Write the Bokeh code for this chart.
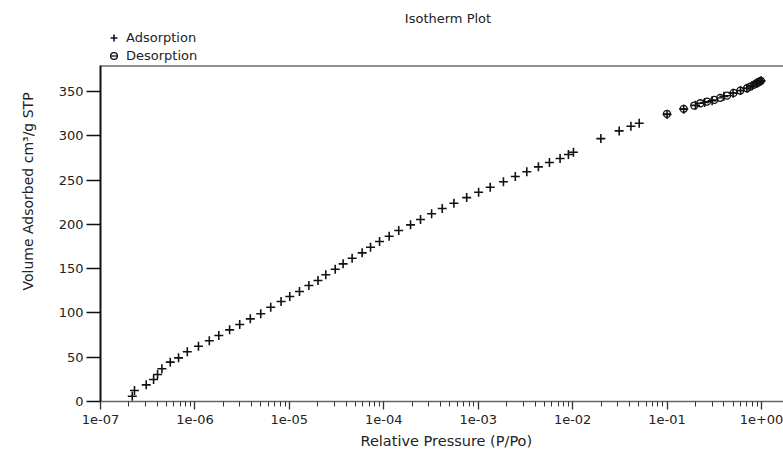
from bokeh.plotting import figure
from bokeh.layouts import column
from bokeh.models import (Range1d, FixedTicker, CustomJSTickFormatter, Legend, LegendItem,
                          Label, Span, Title)
from bokeh.embed import file_html
from bokeh.resources import INLINE

# ---- data ----
ads_p = [2.17e-7, 2.29e-7, 3.05e-7, 3.65e-7, 4.02e-7, 4.47e-7, 5.48e-7, 6.71e-7, 8.30e-7,
         1.09e-6, 1.42e-6, 1.79e-6, 2.33e-6, 2.98e-6, 3.86e-6, 4.98e-6, 6.35e-6, 8.17e-6,
         1.01e-5, 1.28e-5, 1.61e-5, 2.01e-5, 2.43e-5, 3.06e-5, 3.71e-5, 4.62e-5, 5.90e-5,
         7.24e-5, 9.02e-5, 1.14e-4, 1.44e-4, 1.92e-4, 2.45e-4, 3.21e-4, 4.16e-4, 5.53e-4,
         7.55e-4, 1.01e-3, 1.34e-3, 1.85e-3, 2.47e-3, 3.27e-3, 4.34e-3, 5.68e-3, 7.36e-3,
         9.02e-3, 1.02e-2, 1.99e-2, 3.11e-2, 4.14e-2, 5.07e-2,
         0.100, 0.150, 0.200, 0.250, 0.300, 0.400, 0.500, 0.600, 0.700, 0.800, 0.900, 0.950, 0.990]
ads_v = [6.0, 12.4, 18.8, 24.8, 30.5, 36.9, 44.4, 49.3, 56.1,
         62.4, 68.5, 74.5, 80.9, 86.9, 93.3, 99.0, 106.4, 112.9,
         118.5, 124.2, 130.9, 136.6, 143.0, 149.3, 155.4, 161.7, 167.8,
         174.2, 180.6, 186.6, 193.0, 199.4, 205.4, 211.9, 217.8, 223.8,
         230.2, 236.2, 241.9, 248.0, 254.0, 259.3, 264.9, 269.8, 274.3,
         278.8, 281.4, 296.8, 305.5, 310.7, 314.1,
         324.0, 330.0, 334.5, 337.5, 339.5, 344.5, 348.0, 351.0, 353.5, 356.5, 359.5, 361.0, 362.0]

des_p = [0.0998, 0.150, 0.194, 0.225, 0.265, 0.317, 0.366, 0.432, 0.507, 0.597, 0.703,
         0.760, 0.826, 0.880, 0.920, 0.957, 0.985]
des_v = [324.7, 330.4, 334.1, 336.7, 338.6, 340.5, 342.8, 345.4, 348.4, 351.0, 353.6,
         355.5, 357.4, 359.0, 360.2, 361.2, 362.0]

x_ticks = [1e-7, 1e-6, 1e-5, 1e-4, 1e-3, 1e-2, 1e-1, 1e0]
x_tick_labels = ["1e-07", "1e-06", "1e-05", "1e-04", "1e-03", "1e-02", "1e-01", "1e+00"]
y_ticks = [0, 50, 100, 150, 200, 250, 300, 350]

FONT = "DejaVu Sans"
TXT = "#222222"
X_END = 1.71
Y_END = 379.3
MK = "#111111"


def add_series(fig):
    a = fig.scatter(ads_p, ads_v, marker="cross", size=9, line_color=MK, line_width=1.6)
    c = fig.scatter(des_p, des_v, marker="circle", size=7, fill_color=None,
                    line_color=MK, line_width=1.3)
    d = fig.scatter(des_p, des_v, marker="dash", size=7, line_color=MK, line_width=1.3)
    return a, c, d


# ---------- header strip: title + legend (its frame is aligned with the main frame) ----------
head = figure(width=783, height=64, output_backend="svg", toolbar_location=None,
              x_range=Range1d(0, 1), y_range=Range1d(-2, -1),
              x_axis_location=None, y_axis_location=None,
              min_border_left=0, min_border_right=0, min_border_top=0, min_border_bottom=0,
              background_fill_color="white", border_fill_color="white")
head.outline_line_color = None
head.xgrid.visible = False
head.ygrid.visible = False
h_ads, h_c, h_d = add_series(head)   # values lie outside this strip's range: legend glyphs only

legend = Legend(items=[LegendItem(label="Adsorption", renderers=[h_ads]),
                       LegendItem(label="Desorption", renderers=[h_c, h_d])],
                location=(2, 0), orientation="vertical",
                padding=0, margin=0, spacing=1, glyph_width=23, glyph_height=17,
                label_height=17, label_standoff=1,
                label_text_font=FONT, label_text_font_size="13px", label_text_color=TXT,
                border_line_color=None, background_fill_alpha=0)
head.add_layout(legend, "center")
head.add_layout(Label(x=347.5, y=46, x_units="screen", y_units="screen", text="Isotherm Plot",
                      text_align="center", text_baseline="middle", text_font=FONT,
                      text_font_size="13px", text_color=TXT))

# ---------- main plot ----------
p = figure(width=783, height=390, output_backend="svg", toolbar_location=None,
           x_axis_type="log", x_range=Range1d(1e-7, X_END), y_range=Range1d(0, Y_END),
           min_border_left=100, min_border_right=0, min_border_top=1, min_border_bottom=53,
           background_fill_color="white", border_fill_color="white")
p.outline_line_color = None
p.xgrid.visible = False
p.ygrid.visible = False
add_series(p)

# top frame line
p.add_layout(Span(location=Y_END, dimension="width", line_color="#222222", line_width=2))

# x axis
xa = p.xaxis[0]
minor = [m * 10.0 ** e for e in range(-7, 1) for m in range(2, 10) if m * 10.0 ** e <= X_END]
xa.ticker = FixedTicker(ticks=x_ticks, minor_ticks=minor)
xa.formatter = CustomJSTickFormatter(args=dict(tv=x_ticks, lbl=x_tick_labels), code="""
for (let i = 0; i < tv.length; i++) {
  if (Math.abs(Math.log10(tv[i]) - Math.log10(tick)) < 1e-6) { return lbl[i]; }
}
return '';
""")
xa.axis_line_color = "#666666"
xa.axis_line_width = 1.5
xa.major_tick_in = 0
xa.major_tick_out = 8
xa.minor_tick_in = 0
xa.minor_tick_out = 5
xa.major_tick_line_color = "#333333"
xa.minor_tick_line_color = "#333333"
xa.major_tick_line_width = 1.3
xa.major_label_standoff = 5
xa.major_label_text_font = FONT
xa.major_label_text_font_size = "13px"
xa.major_label_text_color = TXT

# y axis
ya = p.yaxis[0]
ya.ticker = FixedTicker(ticks=y_ticks)
ya.axis_line_color = "#111111"
ya.axis_line_width = 2
ya.major_tick_in = 0
ya.major_tick_out = 14
ya.minor_tick_out = 0
ya.minor_tick_in = 0
ya.major_tick_line_color = "#111111"
ya.major_tick_line_width = 1.5
ya.major_label_standoff = 3
ya.major_label_text_font = FONT
ya.major_label_text_font_size = "13px"
ya.major_label_text_color = TXT

# axis titles (side-panel titles, start-aligned with an offset along the axis)
p.add_layout(Title(text="Relative Pressure (P/Po)", align="left", offset=260, standoff=8,
                   text_font=FONT, text_font_size="14.5px", text_font_style="normal",
                   text_color=TXT), "below")
p.add_layout(Title(text="Volume Adsorbed cm\u00b3/g STP", align="left", offset=111,
                   standoff=36, vertical_align="top", text_font=FONT, text_font_size="14px",
                   text_font_style="normal", text_color=TXT), "left")

layout = column(head, p, spacing=0)
open("out.html", "w").write(file_html(layout, INLINE))
